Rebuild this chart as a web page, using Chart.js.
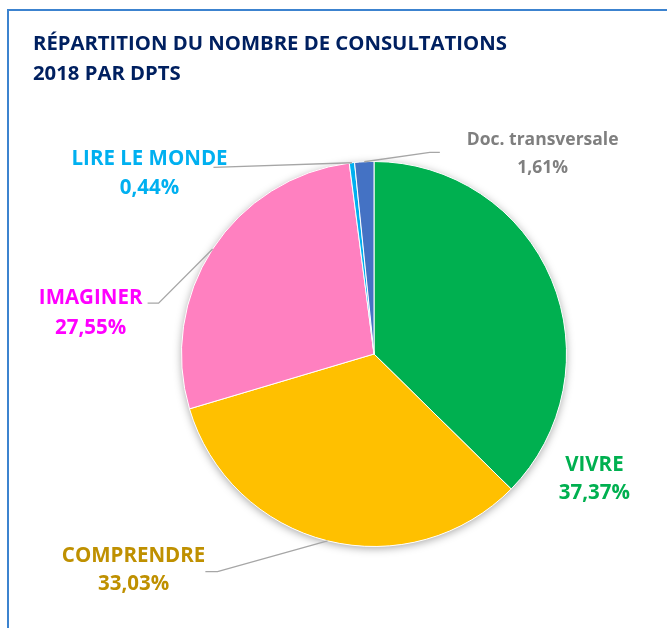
<!DOCTYPE html>
<html>
<head>
<meta charset="utf-8">
<script src="https://cdn.jsdelivr.net/npm/chart.js@4/dist/chart.umd.min.js"></script>
<style>
  html, body { margin: 0; padding: 0; background: #ffffff; }
  #wrap { width: 667px; height: 628px; position: relative; }
</style>
</head>
<body>
<div id="wrap"><canvas id="c" width="667" height="628"></canvas></div>
<script>
// ---- data ----
const categories = ['VIVRE', 'COMPRENDRE', 'IMAGINER', 'LIRE LE MONDE', 'Doc. transversale'];
const shares = [37.37, 33.03, 27.55, 0.44, 1.61];
const titleLines = ['RÉPARTITION DU NOMBRE DE CONSULTATIONS', '2018 PAR DPTS'];

// ---- styles ----
const sliceColors = ['#00B050', '#FFC000', '#FF80C0', '#00B0F0', '#4472C4'];
const labelColors = ['#00B050', '#BF9000', '#FF00FF', '#00B0F0', '#7F7F7F'];
const labelFonts = ['bold 20.5px "Open Sans"', 'bold 20.5px "Open Sans"', 'bold 20.5px "Open Sans"', 'bold 20.5px "Open Sans"', 'bold 17.5px "Open Sans"'];
// label placement in units of the pie radius, relative to pie centre
// [text centre x, first baseline y, line height px, leader elbow, leader end]
const labelLayout = [
  { x: 1.145, y: 0.606, lh: 28, elbow: null, end: null },
  { x: -1.249, y: 1.078, lh: 28, elbow: [-0.813, 1.130], end: [-0.876, 1.130] },
  { x: -1.472, y: -0.259, lh: 30, elbow: [-1.119, -0.264], end: [-1.176, -0.264] },
  { x: -1.166, y: -0.984, lh: 29, elbow: [-0.834, -0.969], end: [-0.834, -0.969] },
  { x: 0.876, y: -1.088, lh: 28, elbow: [0.290, -1.047], end: [0.342, -1.047] }
];

function fmtPct(v) { return v.toFixed(2).replace('.', ',') + '%'; }

const framePlugin = {
  id: 'frame',
  beforeDraw(chart) {
    const ctx = chart.ctx;
    ctx.save();
    ctx.fillStyle = '#ffffff';
    ctx.fillRect(0, 0, chart.width, chart.height);
    ctx.strokeStyle = '#3C83CF';
    ctx.lineWidth = 2;
    ctx.beginPath();
    ctx.moveTo(8, chart.height + 5);
    ctx.lineTo(8, 10);
    ctx.lineTo(chart.width + 5, 10);
    ctx.stroke();
    // title
    ctx.fillStyle = '#002060';
    ctx.font = 'bold 20.3px "Open Sans"';
    ctx.textBaseline = 'alphabetic';
    ctx.textAlign = 'left';
    ctx.fillText(titleLines[0], 33, 50);
    ctx.fillText(titleLines[1], 33, 80);
    ctx.restore();
  },
  beforeDatasetsDraw(chart) {
    const meta = chart.getDatasetMeta(0);
    const arc = meta.data[0];
    if (!arc) return;
    const ctx = chart.ctx;
    ctx.save();
    ctx.shadowColor = 'rgba(0,0,0,0.35)';
    ctx.shadowBlur = 8;
    ctx.shadowOffsetX = 0;
    ctx.shadowOffsetY = 2;
    ctx.fillStyle = '#ffffff';
    ctx.beginPath();
    ctx.arc(arc.x, arc.y, arc.outerRadius, 0, Math.PI * 2);
    ctx.fill();
    ctx.restore();
  },
  afterDatasetsDraw(chart) {
    const meta = chart.getDatasetMeta(0);
    const ctx = chart.ctx;
    meta.data.forEach((arc, i) => {
      const cx = arc.x, cy = arc.y, r = arc.outerRadius;
      const lay = labelLayout[i];
      const mid = (arc.startAngle + arc.endAngle) / 2;
      ctx.save();
      if (lay.elbow) {
        ctx.strokeStyle = '#A6A6A6';
        ctx.lineWidth = 1.3;
        ctx.beginPath();
        ctx.moveTo(cx + Math.cos(mid) * r, cy + Math.sin(mid) * r);
        ctx.lineTo(cx + lay.elbow[0] * r, cy + lay.elbow[1] * r);
        ctx.lineTo(cx + lay.end[0] * r, cy + lay.end[1] * r);
        ctx.stroke();
      }
      ctx.fillStyle = labelColors[i];
      ctx.font = labelFonts[i];
      ctx.textAlign = 'center';
      ctx.textBaseline = 'alphabetic';
      const tx = cx + lay.x * r, ty = cy + lay.y * r;
      ctx.fillText(categories[i], tx, ty);
      ctx.fillText(fmtPct(shares[i]), tx, ty + lay.lh);
      ctx.restore();
    });
  }
};

new Chart(document.getElementById('c'), {
  type: 'pie',
  data: {
    labels: categories,
    datasets: [{
      data: shares,
      backgroundColor: sliceColors,
      borderColor: '#ffffff',
      borderWidth: 1
    }]
  },
  options: {
    responsive: false,
    animation: false,
    layout: { padding: { top: 161, bottom: 81, left: 181, right: 100 } },
    plugins: { legend: { display: false }, tooltip: { enabled: false }, title: { display: false } }
  },
  plugins: [framePlugin]
});
</script>
</body>
</html>
